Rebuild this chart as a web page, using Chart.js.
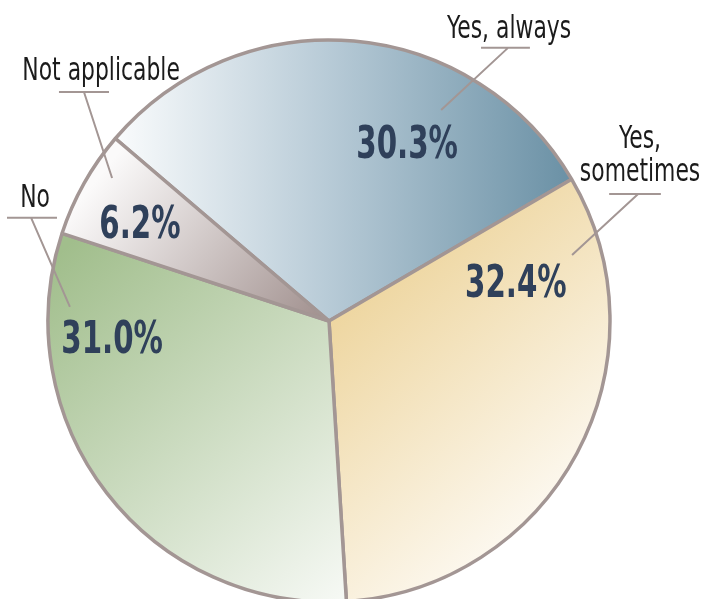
<!DOCTYPE html>
<html>
<head>
<meta charset="utf-8">
<script src="https://cdn.jsdelivr.net/npm/chart.js@4.4.0/dist/chart.umd.min.js"></script>
<style>
html,body{margin:0;padding:0;background:#fff;overflow:hidden}
#wrap{width:705px;height:599px;position:relative}
</style>
</head>
<body>
<div id="wrap"><canvas id="pieChart"></canvas></div>
<script>
// 데이터 (시계방향, 'Yes, always' 부터)
const categories = ['Yes, always', 'Yes, sometimes', 'No', 'Not applicable'];
const shares = [30.3, 32.4, 31.0, 6.2];
const nameLines = [['Yes, always'], ['Yes,', 'sometimes'], ['No'], ['Not applicable']];

// 스타일
const PIE_RADIUS = 281;
const BORDER = '#a39694';
const PCT_COLOR = '#2f405a';
const FONT = "'DejaVu Sans Condensed', 'Liberation Sans Narrow', sans-serif";
const gradients = [
  {from: [-0.75, 0], to: [0.9, 0], stops: [[0, '#f9fbfc'], [0.45, '#b8cbd7'], [1, '#678ea3']]},
  {from: [0.05, -0.05], to: [0.8, 0.8], stops: [[0, '#eed6a0'], [1, '#fefcf8']]},
  {from: [-0.95, -0.25], to: [0.15, 0.95], stops: [[0, '#a1be8c'], [1, '#f8faf7']]},
  {from: [-0.75, -0.6], to: [0, 0], stops: [[0, '#fbfafa'], [1, '#9f8e8c']]}
];
// 라벨 위치: 중심 기준, 반지름 단위
const pctPos = [[0.278, -0.580], [0.665, -0.085], [-0.772, 0.114], [-0.673, -0.295]];
const leaders = [
  {inner: [0.399, -0.751], elbow: [0.637, -0.972], bar: [0.541, 0.715], text: [0.641, -1.007]},
  {inner: [0.865, -0.235], elbow: [1.100, -0.452], bar: [0.997, 1.181], text: [1.107, -0.616]},
  {inner: [-0.922, -0.050], elbow: [-1.060, -0.367], bar: [-1.146, -0.968], text: [-1.046, -0.406]},
  {inner: [-0.772, -0.509], elbow: [-0.872, -0.815], bar: [-0.961, -0.783], text: [-0.811, -0.858]}
];

function pieCenter(chart) {
  const a = chart.chartArea;
  return {x: (a.left + a.right) / 2, y: (a.top + a.bottom) / 2};
}

function sliceFill(ctx) {
  const chart = ctx.chart;
  if (!chart.chartArea) return '#ccc';
  const g = gradients[ctx.dataIndex];
  const c = pieCenter(chart);
  const r = PIE_RADIUS;
  const grad = chart.ctx.createLinearGradient(
    c.x + g.from[0] * r, c.y + g.from[1] * r,
    c.x + g.to[0] * r, c.y + g.to[1] * r);
  g.stops.forEach(s => grad.addColorStop(s[0], s[1]));
  return grad;
}

function drawText(ctx, text, x, y, font, color, sx) {
  ctx.save();
  ctx.font = font;
  ctx.fillStyle = color;
  ctx.textAlign = 'center';
  ctx.textBaseline = 'alphabetic';
  ctx.translate(x, y);
  ctx.scale(sx, 1);
  ctx.fillText(text, 0, 0);
  ctx.restore();
}

const labelPlugin = {
  id: 'pieLabels',
  afterDatasetsDraw(chart) {
    const ctx = chart.ctx;
    const arc = chart.getDatasetMeta(0).data[0];
    const cx = arc.x, cy = arc.y, r = arc.outerRadius;
    const P = p => [cx + p[0] * r, cy + p[1] * r];

    // 지시선
    ctx.save();
    ctx.strokeStyle = BORDER;
    ctx.lineWidth = 2;
    leaders.forEach(l => {
      const a = P(l.inner), b = P(l.elbow);
      ctx.beginPath();
      ctx.moveTo(a[0], a[1]);
      ctx.lineTo(b[0], b[1]);
      ctx.moveTo(cx + l.bar[0] * r, b[1]);
      ctx.lineTo(cx + l.bar[1] * r, b[1]);
      ctx.stroke();
    });
    ctx.restore();

    // 항목 이름
    leaders.forEach((l, i) => {
      const t = P(l.text);
      nameLines[i].forEach((line, k) => {
        drawText(ctx, line, t[0], t[1] + k * 33, "32px " + FONT, '#1b1b1b', 0.76);
      });
    });

    // 퍼센트
    shares.forEach((v, i) => {
      const p = P(pctPos[i]);
      drawText(ctx, v.toFixed(1) + '%', p[0], p[1], "bold 44px " + FONT, PCT_COLOR, 0.74);
    });
  }
};

new Chart(document.getElementById('pieChart'), {
  type: 'pie',
  data: {
    labels: categories,
    datasets: [{
      data: shares,
      backgroundColor: sliceFill,
      borderColor: BORDER,
      borderWidth: 3.5,
      radius: PIE_RADIUS
    }]
  },
  options: {
    responsive: true,
    maintainAspectRatio: false,
    animation: false,
    rotation: -49.5,
    layout: {padding: {left: 0, right: 47, top: 43, bottom: 0}},
    plugins: {
      legend: {display: false},
      tooltip: {enabled: false}
    }
  },
  plugins: [labelPlugin]
});
</script>
</body>
</html>
